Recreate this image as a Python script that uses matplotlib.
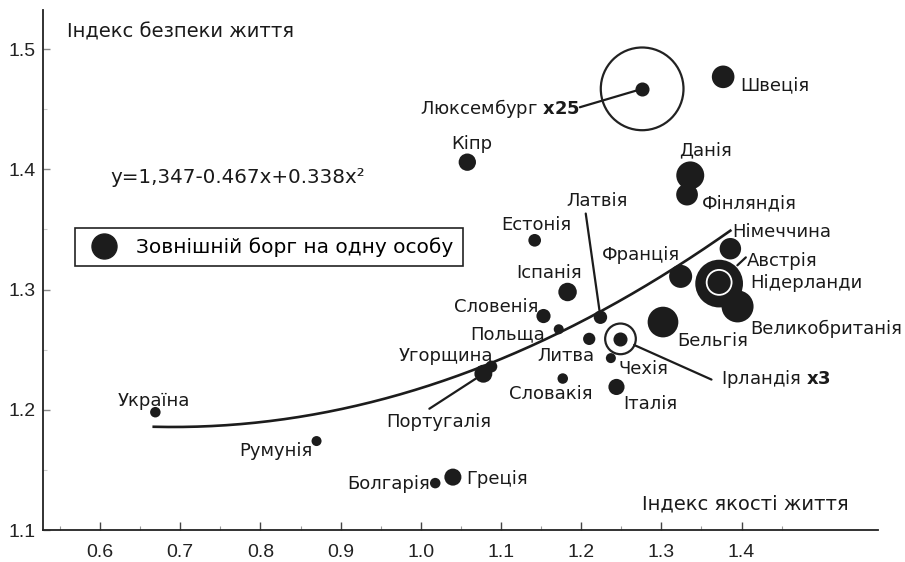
import numpy as np
import matplotlib
matplotlib.use('Agg')
import matplotlib.pyplot as plt
from matplotlib.lines import Line2D

plt.rcParams['font.family'] = ['DejaVu Sans']

# --- data ---
countries = ['Україна', 'Румунія', 'Болгарія', 'Греція', 'Угорщина', 'Португалія',
             'Словенія', 'Польща', 'Іспанія', 'Естонія', 'Кіпр', 'Латвія', 'Литва',
             'Чехія', 'Словакія', 'Італія', 'Бельгія', 'Франція', 'Німеччина',
             'Нідерланди', 'Австрія', 'Великобританія', 'Данія', 'Фінляндія', 'Швеція']
quality = [0.669, 0.870, 1.018, 1.040, 1.088, 1.078,
           1.153, 1.172, 1.183, 1.142, 1.058, 1.224, 1.210,
           1.237, 1.177, 1.244, 1.302, 1.324, 1.386,
           1.372, 1.372, 1.395, 1.336, 1.332, 1.377]
safety = [1.198, 1.174, 1.139, 1.144, 1.236, 1.230,
          1.278, 1.267, 1.298, 1.341, 1.406, 1.277, 1.259,
          1.243, 1.226, 1.219, 1.273, 1.311, 1.334,
          1.305, 1.306, 1.286, 1.395, 1.379, 1.477]
# зовнішній борг на одну особу (умовні одиниці)
debt = [11, 10, 11, 29, 14, 32,
        20, 10, 34, 16, 30, 18, 15,
        10, 11, 26, 94, 53, 46,
        227, 62, 102, 78, 47, 51]

# країни, показані у зменшеному масштабі
scaled_names = ['Люксембург', 'Ірландія']
scaled_quality = [1.276, 1.249]
scaled_safety = [1.467, 1.259]
scaled_debt = [17050, 281]
scaled_factor = [25, 3]

# y = a + b*x + c*x^2
fit_coef = [1.347, -0.467, 0.338]
fit_from, fit_to = 0.667, 1.386

# --- style ---
PX = 0.72           # pixels -> points at 100 dpi
size_per_unit = 5.2
dark = '#1c1c1c'

# label offsets in pixels (dx, dy down), horizontal alignment
label_pos = {
    'Україна': (-1.5, -6, 'center'), 'Румунія': (-3.7, 15, 'right'),
    'Болгарія': (-5, 6, 'right'), 'Греція': (13.7, 7, 'left'),
    'Угорщина': (1.3, -5.7, 'right'), 'Португалія': (-44.6, 53.4, 'center'),
    'Словенія': (-5, -4, 'right'), 'Польща': (-13.3, 10, 'right'),
    'Іспанія': (-18, -14.4, 'center'), 'Естонія': (2, -10, 'center'),
    'Кіпр': (4.5, -13.3, 'center'), 'Латвія': (-3.7, -111, 'center'),
    'Литва': (-23.2, 21.7, 'center'), 'Чехія': (7.3, 16, 'left'),
    'Словакія': (-11.9, 20, 'center'), 'Італія': (6.6, 21.6, 'left'),
    'Бельгія': (14, 24.4, 'left'), 'Франція': (-0.7, -16.7, 'right'),
    'Німеччина': (2, -11.6, 'left'), 'Нідерланди': (31.4, 4, 'left'),
    'Австрія': (27.3, -16, 'left'), 'Великобританія': (12.3, 27.6, 'left'),
    'Данія': (15.5, -20, 'center'), 'Фінляндія': (15, 13.3, 'left'),
    'Швеція': (17.4, 13.4, 'left'),
    'Люксембург': (-62.3, 25, 'right'), 'Ірландія': (101, 45, 'left'),
}
# leader lines: end offset in pixels, shrink at the point in pixels
leaders = {
    'Люксембург': (-62.3, 18.4, 0), 'Ірландія': (91, 40.7, 15),
    'Латвія': (-14.7, -103.7, 6.7), 'Португалія': (-54, 35, 9),
    'Австрія': (26.7, -25, 25),
}

fig = plt.figure(figsize=(9.05, 5.62), dpi=100)
ax = fig.add_axes([43 / 905, 1 - 530 / 562, 835 / 905, 520 / 562])
ax.set_xlim(0.5289, 1.5701)
ax.set_ylim(1.1, 1.5326)

for s in ['top', 'right']:
    ax.spines[s].set_visible(False)
for s in ['left', 'bottom']:
    ax.spines[s].set_linewidth(1.3)
    ax.spines[s].set_color('#222222')

ax.set_xticks(np.arange(0.6, 1.41, 0.1))
ax.set_xticks(np.arange(0.55, 1.46, 0.1), minor=True)
ax.set_yticks(np.arange(1.1, 1.51, 0.1))
ax.set_yticks(np.arange(1.15, 1.46, 0.1), minor=True)
ax.xaxis.set_major_formatter(matplotlib.ticker.FormatStrFormatter('%.1f'))
ax.yaxis.set_major_formatter(matplotlib.ticker.FormatStrFormatter('%.1f'))
ax.tick_params(axis='x', which='major', direction='in', length=5.8, width=1,
               color='#444444', pad=10, labelsize=14, labelcolor='#222222')
ax.tick_params(axis='x', which='minor', direction='in', length=3, width=0.8, color='#999999')
ax.tick_params(axis='y', which='major', direction='in', length=5, width=1,
               color='#888888', pad=5, labelsize=14, labelcolor='#222222')
ax.tick_params(axis='y', which='minor', direction='in', length=3, width=0.8, color='#cccccc')
for lab in ax.get_xticklabels() + ax.get_yticklabels():
    lab.set_fontfamily('Liberation Sans')

# regression curve
xf = np.linspace(fit_from, fit_to, 200)
yf = fit_coef[0] + fit_coef[1] * xf + fit_coef[2] * xf ** 2
ax.plot(xf, yf, color=dark, lw=1.9, zorder=2)

# countries
edges = ['white' if c == 'Австрія' else dark for c in countries]
ax.scatter(quality, safety, s=np.array(debt) * size_per_unit, c=dark,
           edgecolors=edges, linewidths=[1.3 if c == 'Австрія' else 0 for c in countries],
           zorder=3)

# scaled countries: ring with reduced area + centre dot
ring = np.array(scaled_debt) / np.array(scaled_factor)
ax.scatter(scaled_quality, scaled_safety, s=ring * size_per_unit, facecolors='none',
           edgecolors='#222222', linewidths=1.6, zorder=3)
ax.scatter(scaled_quality, scaled_safety, s=16 * size_per_unit, c=dark, zorder=3)

xs = dict(zip(countries + scaled_names, quality + scaled_quality))
ys = dict(zip(countries + scaled_names, safety + scaled_safety))

for name, (ex, ey, shr) in leaders.items():
    ax.annotate('', xy=(xs[name], ys[name]), xytext=(ex * PX, -ey * PX),
                textcoords='offset points',
                arrowprops=dict(arrowstyle='-', lw=1.6, color=dark,
                                shrinkA=0, shrinkB=shr * PX), zorder=2)

for name, (dx, dy, ha) in label_pos.items():
    text = name
    if name in scaled_names:
        text = name + ' $\\mathbf{x%d}$' % scaled_factor[scaled_names.index(name)]
    ax.annotate(text, xy=(xs[name], ys[name]), xytext=(dx * PX, -dy * PX),
                textcoords='offset points', ha=ha, va='baseline',
                fontsize=13, color='#1a1a1a', zorder=4)

# axis titles and equation
ax.text(0.0284, 0.9467, 'Індекс безпеки життя', transform=ax.transAxes,
        fontsize=14, va='baseline', ha='left', color='#1a1a1a')
ax.text(0.717, 0.0385, 'Індекс якості життя', transform=ax.transAxes,
        fontsize=14, va='baseline', ha='left', color='#1a1a1a')
ax.text(0.0802, 0.6667, 'y=1,347-0.467x+0.338x²', transform=ax.transAxes,
        fontsize=14.3, va='baseline', ha='left', color='#1a1a1a')

handle = Line2D([], [], marker='o', ls='none', color=dark, markersize=18)
leg = ax.legend([handle], ['Зовнішній борг на одну особу'], loc='upper left',
                bbox_to_anchor=(75 / 905, 1 - 228 / 562), bbox_transform=fig.transFigure,
                borderaxespad=0, fontsize=14.5, frameon=True, fancybox=False,
                framealpha=1, edgecolor='#222222', borderpad=0.45,
                handletextpad=0.6, handlelength=2.0)
leg.get_frame().set_linewidth(1.2)

fig.savefig('out.png', dpi=100)
